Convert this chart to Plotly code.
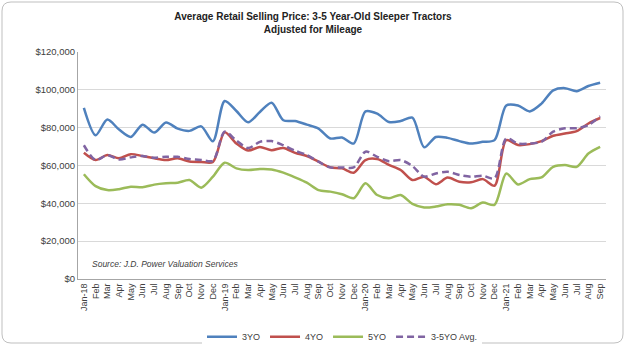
import plotly.graph_objects as go

months = ["Jan-18", "Feb", "Mar", "Apr", "May", "Jun", "Jul", "Aug", "Sep", "Oct", "Nov", "Dec",
          "Jan-19", "Feb", "Mar", "Apr", "May", "Jun", "Jul", "Aug", "Sep", "Oct", "Nov", "Dec",
          "Jan-20", "Feb", "Mar", "Apr", "May", "Jun", "Jul", "Aug", "Sep", "Oct", "Nov", "Dec",
          "Jan-21", "Feb", "Mar", "Apr", "May", "Jun", "Jul", "Aug", "Sep"]

yo3 = [90500, 76000, 84300, 79000, 75100, 81600, 77400, 82700, 79500, 78300, 80700, 72800,
       94100, 88800, 82800, 88300, 93200, 83900, 83500, 81600, 79500, 74300, 74800, 71600,
       88600, 87400, 83000, 83500, 85300, 69600, 75100, 74600, 72900, 71600, 72500, 73400,
       91700, 91700, 88600, 92700, 99700, 100900, 99300, 102000, 103700]

yo4 = [66700, 62900, 65500, 63800, 66000, 65000, 63800, 62900, 63800, 62100, 61900, 61900,
       77600, 71600, 67900, 69800, 68100, 69300, 66700, 65000, 62000, 59000, 58500, 56200,
       62900, 63400, 60300, 57600, 52300, 54100, 50100, 53600, 51400, 51100, 52800, 49300,
       73400, 70800, 71300, 72900, 75700, 76900, 78200, 82200, 85100]

yo5 = [55400, 49100, 47000, 47500, 48800, 48500, 49900, 50600, 50900, 52300, 48300, 54100,
       61500, 58500, 57600, 58100, 57900, 56200, 53700, 50900, 47000, 46200, 44800, 42700,
       50600, 44400, 42700, 44400, 39700, 37800, 38300, 39500, 39200, 37400, 40400, 39200,
       55800, 50000, 52800, 53700, 59300, 60200, 59300, 66300, 69800]

avg = [70700, 62900, 65500, 63200, 64300, 65000, 64100, 64600, 64600, 63400, 62900, 62500,
       77900, 73200, 69200, 72500, 72900, 70700, 67800, 65500, 62000, 59000, 59000, 59000,
       67300, 64600, 62300, 62900, 59700, 54100, 55800, 56700, 55000, 54100, 54600, 53200,
       74300, 71600, 71600, 72500, 77900, 79700, 79700, 81400, 86000]

y_ticks = [0, 20000, 40000, 60000, 80000, 100000, 120000]
y_tick_text = ["$0", "$20,000", "$40,000", "$60,000", "$80,000", "$100,000", "$120,000"]

idx = list(range(len(months)))
FONT = "Liberation Sans, Arial"

fig = go.Figure()
series = [("3YO", yo3, "#4F81BD", "solid"),
          ("4YO", yo4, "#C0504D", "solid"),
          ("5YO", yo5, "#9BBB59", "solid"),
          ("3-5YO Avg.", avg, "#8064A2", "7px,4px")]
for name, vals, col, dash in series:
    fig.add_trace(go.Scatter(x=idx, y=vals, name=name, mode="lines",
                             line=dict(color=col, width=2.5, dash=dash,
                                       shape="spline", smoothing=0.8)))

# rounded border around the chart (pixel geometry -> paper coords)
L, R, T, B = 78, 606, 52, 279
W, H = R - L, B - T
def px(x): return (x - L) / W
def py(y): return (B - y) / H
x0, x1, y0, y1, r = 2, 623, 2, 343, 9
path = (f"M {px(x0+r)} {py(y0)} L {px(x1-r)} {py(y0)} Q {px(x1)} {py(y0)} {px(x1)} {py(y0+r)} "
        f"L {px(x1)} {py(y1-r)} Q {px(x1)} {py(y1)} {px(x1-r)} {py(y1)} "
        f"L {px(x0+r)} {py(y1)} Q {px(x0)} {py(y1)} {px(x0)} {py(y1-r)} "
        f"L {px(x0)} {py(y0+r)} Q {px(x0)} {py(y0)} {px(x0+r)} {py(y0)} Z")

fig.update_layout(
    width=626, height=346,
    margin=dict(l=L, r=626 - R, t=T, b=346 - B, autoexpand=False),
    paper_bgcolor="white", plot_bgcolor="white",
    font=dict(family=FONT, size=10, color="#404040"),
    title=dict(text="<b>Average Retail Selling Price: 3-5 Year-Old Sleeper Tractors<br>Adjusted for Mileage</b>",
               x=0.5, xanchor="center", y=0.942, yanchor="top",
               font=dict(family=FONT, size=10, color="#222222")),
    showlegend=True,
    legend=dict(orientation="h", x=0.5, xanchor="center", y=-0.19, yanchor="top",
                font=dict(family=FONT, size=9, color="#404040"),
                itemwidth=30, tracegroupgap=0),
    shapes=[dict(type="path", path=path, xref="paper", yref="paper",
                 line=dict(color="#BFBFBF", width=1), layer="below")],
    annotations=[dict(text="<i>Source: J.D. Power Valuation Services</i>",
                      xref="paper", yref="paper", x=px(90), y=py(264),
                      xanchor="left", yanchor="middle", showarrow=False,
                      font=dict(family=FONT, size=8.5, color="#404040"))],
)
fig.update_xaxes(range=[-0.5, len(months) - 0.5], tickmode="array", tickvals=idx, ticktext=months,
                 tickangle=-90, showgrid=False, showline=True, linecolor="#A6A6A6", linewidth=1,
                 ticks="", zeroline=False, automargin=False, tickfont=dict(size=9))
fig.update_yaxes(range=[0, 120000], tickmode="array", tickvals=y_ticks, ticktext=y_tick_text,
                 showgrid=True, gridcolor="#D9D9D9", gridwidth=1, showline=True,
                 linecolor="#A6A6A6", linewidth=1, zeroline=False, ticks="", ticklen=0,
                 automargin=False, tickfont=dict(size=9.5))

fig.write_html("out.html")
